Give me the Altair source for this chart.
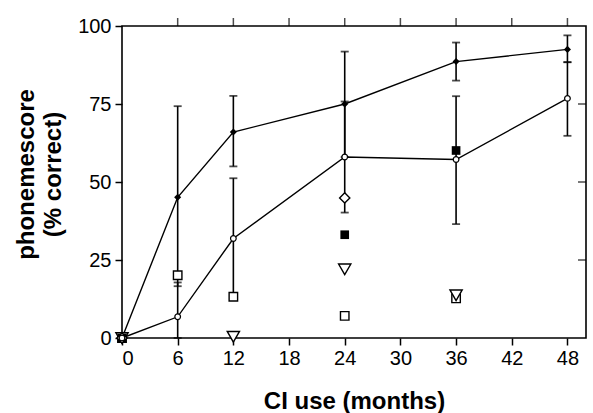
import altair as alt
import pandas as pd

# ---- data ----
months = [0, 6, 12, 24, 36, 48]
a_mean = [0, 45.1, 66.0, 75.0, 88.6, 92.5]
b_mean = [0, 6.8, 31.9, 58.0, 57.2, 76.8]

err_months = [6, 12, 24, 36, 48]
a_lo = [16.6, 55.0, 58.0, 82.5, 88.4]
a_hi = [74.3, 77.6, 91.8, 94.7, 97.0]
b_lo = [0.0, 12.6, 40.2, 36.5, 64.8]
b_hi = [17.8, 51.2, 75.8, 77.5, 88.4]

# individual subjects
sq_open_x = [0, 6, 12, 24, 36]
sq_open_y = [0, 20.1, 13.2, 7.1, 12.7]
tri_x = [0, 12, 24, 36]
tri_y = [0, 0.4, 22.0, 13.7]
sq_fill_x = [0, 24, 36]
sq_fill_y = [0, 33.1, 60.1]
dia_open_x = [0, 24]
dia_open_y = [0, 44.9]

x_ticks = [0, 6, 12, 18, 24, 30, 36, 42, 48]
y_ticks = [0, 25, 50, 75, 100]

FONT = "Liberation Sans"

means = pd.DataFrame({"m": months, "a": a_mean, "b": b_mean})
errs = pd.DataFrame({"m": err_months, "alo": a_lo, "ahi": a_hi, "blo": b_lo, "bhi": b_hi})

xs = alt.Scale(domain=[0, 50], nice=False, zero=False)
ys = alt.Scale(domain=[0, 100], nice=False)

X = alt.X("m:Q", scale=xs, axis=alt.Axis(
    values=x_ticks, title="CI use (months)", grid=False, domain=False,
    tickSize=7, tickWidth=1.5, tickColor="black",
    labelFontSize=20, labelFont=FONT, labelColor="black", labelPadding=3,
    titleFontSize=24, titleFont=FONT, titleFontWeight="bold", titleColor="black",
    titleBaseline="alphabetic", titleY=70))


def Y(field):
    return alt.Y(field, scale=ys, axis=alt.Axis(
        values=y_ticks, title=["phonemescore", "(% correct)"], grid=False, domain=False,
        tickSize=7, tickWidth=1.5, tickColor="black",
        labelFontSize=20, labelFont=FONT, labelColor="black", labelPadding=4,
        titleFontSize=24, titleFont=FONT, titleFontWeight="bold", titleColor="black",
        titleAngle=-90, titleBaseline="top", titleAlign="center",
        titleX=-108, titleY=148, titleLineHeight=27))


base = alt.Chart(means)

line_a = base.mark_line(color="black", strokeWidth=1.4).encode(x=X, y=Y("a:Q"))
line_b = base.mark_line(color="black", strokeWidth=1.4).encode(x=X, y=Y("b:Q"))

ebase = alt.Chart(errs)
rule_a = ebase.mark_rule(color="black", strokeWidth=1.6).encode(x=X, y=Y("alo:Q"), y2="ahi:Q")
rule_b = ebase.mark_rule(color="black", strokeWidth=1.6).encode(x=X, y=Y("blo:Q"), y2="bhi:Q")
caps = [
    ebase.mark_tick(orient="horizontal", size=8, thickness=1.8, color="black").encode(x=X, y=Y(f + ":Q"))
    for f in ["alo", "ahi", "blo", "bhi"]
]

pts_a = base.mark_point(shape="diamond", filled=True, color="black", size=50, opacity=1).encode(x=X, y=Y("a:Q"))
pts_b = base.mark_point(shape="circle", filled=True, fill="white", stroke="black", strokeWidth=1.2,
                        size=32, opacity=1).encode(x=X, y=Y("b:Q"))


def scatter(xv, yv, shape, filled, size):
    df = pd.DataFrame({"m": xv, "v": yv})
    if filled:
        mk = alt.Chart(df).mark_point(shape=shape, filled=True, color="black", size=size, opacity=1)
    else:
        mk = alt.Chart(df).mark_point(shape=shape, filled=True, fill="white", stroke="black",
                                      strokeWidth=1.4, size=size, opacity=1)
    return mk.encode(x=X, y=Y("v:Q"))


sq_open = scatter(sq_open_x, sq_open_y, "square", False, 72)
tri_open = scatter(tri_x, tri_y, "triangle-down", False, 150)
sq_fill = scatter(sq_fill_x, sq_fill_y, "square", True, 75)
dia_open = scatter(dia_open_x, dia_open_y, "diamond", False, 105)

# inward/outward ticks on top and right frame edges
top_ticks = alt.Chart(pd.DataFrame({"m": x_ticks[1:]})).mark_tick(
    orient="vertical", size=8, thickness=1.5, color="black", yOffset=-4
).encode(x=X, y=alt.datum(100))
right_ticks = alt.Chart(pd.DataFrame({"v": y_ticks[1:-1]})).mark_tick(
    orient="horizontal", size=8, thickness=1.5, color="black", xOffset=-4
).encode(x=alt.datum(50), y=Y("v:Q"))

chart = alt.layer(
    line_a, line_b, rule_a, rule_b, *caps,
    sq_open, tri_open, sq_fill, dia_open,
    pts_a, pts_b, top_ticks, right_ticks
).properties(
    width=464, height=312,
    autosize=alt.AutoSizeParams(type="none"),
    padding={"left": 122, "top": 26, "right": 7, "bottom": 75},
    background="white",
).configure_view(stroke="black", strokeWidth=1.6)

chart.save("out.html", embed_options={"renderer": "svg", "actions": False})
